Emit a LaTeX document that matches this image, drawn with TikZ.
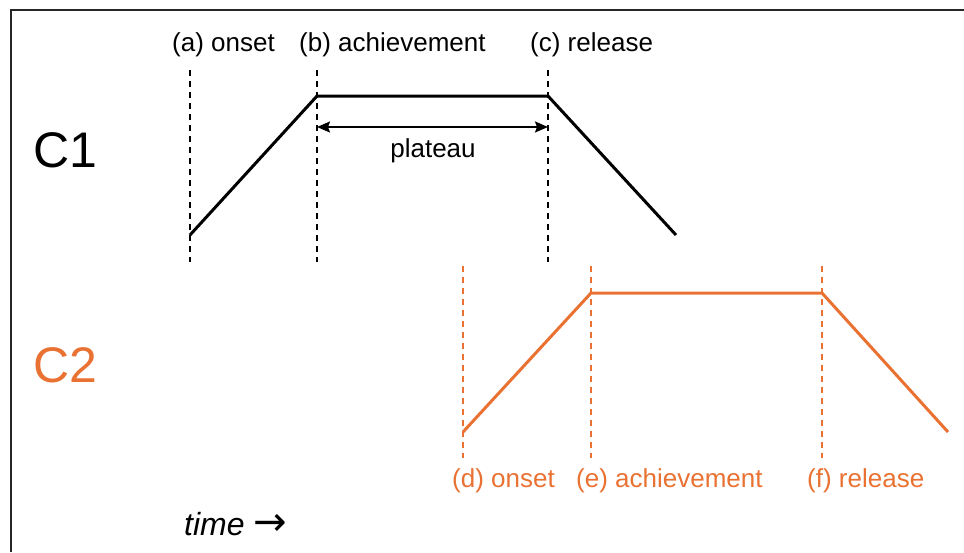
\documentclass[tikz,border=0pt]{standalone}
\usepackage{fontspec}
\setmainfont{Liberation Sans}
\newfontfamily\arrowfont{DejaVu Sans}
\usepackage{xcolor}
\usepackage{tikz}
\usetikzlibrary{arrows.meta}
\definecolor{ctwo}{HTML}{E97132}

\begin{document}
\begin{tikzpicture}[x=1pt,y=-1pt,
  trace/.style={line width=3pt,line join=miter},
  guide/.style={line width=1.4pt,dash pattern=on 6pt off 5pt},
  lbl/.style={anchor=base west,inner sep=0pt,font=\fontsize{26}{31}\selectfont},
  big/.style={anchor=base west,inner sep=0pt,font=\fontsize{50}{56}\selectfont}]
\useasboundingbox (0,0) rectangle (964,552);
\draw[line width=2pt,black!85] (10.5,552) -- (10.5,10) -- (964,10);

\node[big] (c1) at (33,167) {C1};
\node[big,ctwo] (c2) at (33,382) {C2};

\coordinate (a0) at (190,235);
\coordinate (b0) at (317,96);
\coordinate (c0) at (548,96);
\coordinate (e1) at (676,235);

\coordinate (d0) at (463,432);
\coordinate (e0) at (591,293);
\coordinate (f0) at (822,293);
\coordinate (e2) at (948,432);

\foreach \x in {190,317,548} \draw[guide] (\x,70) -- (\x,262);
\foreach \x in {463,591,822} \draw[guide,ctwo] (\x,266) -- (\x,458);

\draw[trace] (a0) -- (b0) -- (c0) -- (e1);
\draw[trace,ctwo] (d0) -- (e0) -- (f0) -- (e2);

\node[lbl] (la) at (172,51) {(a) onset};
\node[lbl] (lb) at (299,51) {(b) achievement};
\node[lbl] (lc) at (530,51) {(c) release};

\node[lbl,ctwo] (ld) at (452,487) {(d) onset};
\node[lbl,ctwo] (le) at (576,487) {(e) achievement};
\node[lbl,ctwo] (lf) at (807,487) {(f) release};

\coordinate (p1) at (317,127);
\coordinate (p2) at (548,127);
\draw[{Stealth[length=13pt,width=11pt,inset=2pt]}-{Stealth[length=13pt,width=11pt,inset=2pt]},line width=1.8pt] (p1) -- (p2);
\node[anchor=base,inner sep=0pt,font=\fontsize{26}{30}\selectfont] (plat) at (433,157) {plateau};

\node[anchor=base west,inner sep=0pt,font=\fontsize{32}{36}\selectfont\itshape] (time) at (184,535) {time {\arrowfont\fontsize{40}{44}\selectfont →}};
\end{tikzpicture}
\end{document}
